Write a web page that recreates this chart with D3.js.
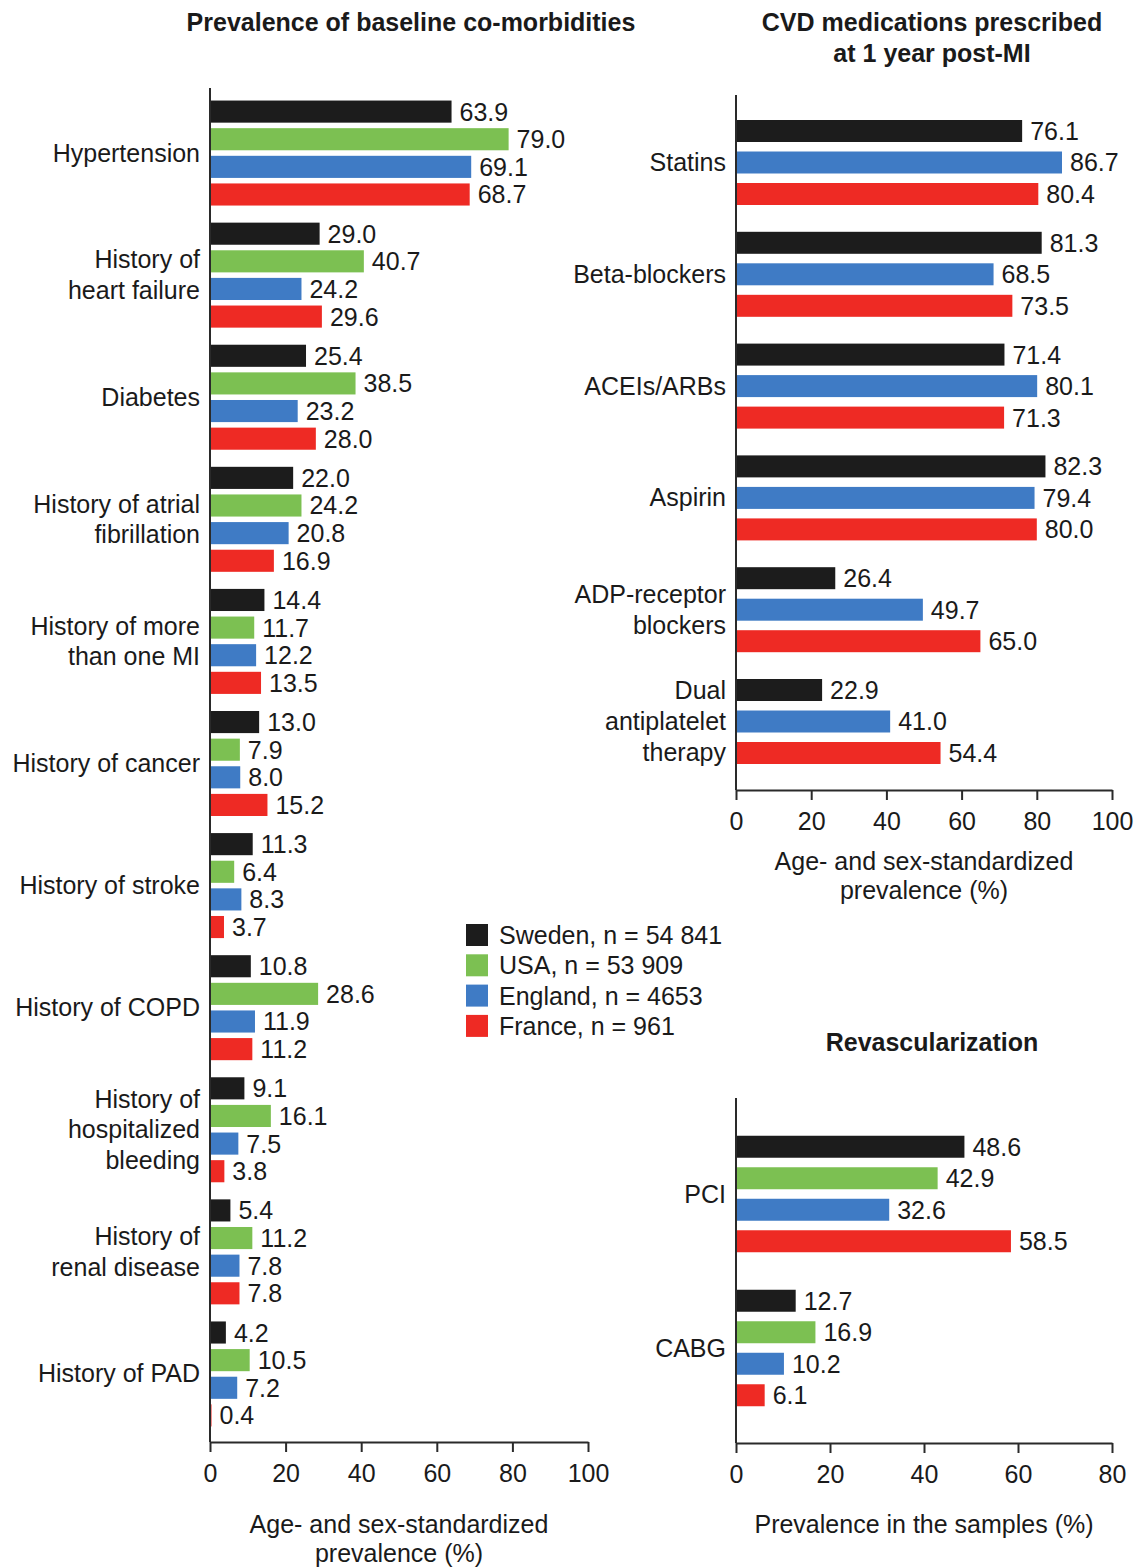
<!DOCTYPE html>
<html>
<head>
<meta charset="utf-8">
<script src="https://cdn.jsdelivr.net/npm/d3@7"></script>
<style>
  html, body { margin: 0; padding: 0; background: #fff; }
  svg { display: block; }
  text { font-family: "Liberation Sans", Arial, Helvetica, sans-serif; fill: #1a1a1a; }
</style>
</head>
<body>
<svg id="chart" width="1135" height="1567"></svg>
<script>
// Series (countries) and colours
const countries = ["Sweden", "USA", "England", "France"];
const countrySizes = ["54 841", "53 909", "4653", "961"];
const countryColors = ["#1c1c1c", "#7cc052", "#3f7bc5", "#ee2a24"];

// Baseline co-morbidities (Sweden, USA, England, France)
const comorbidities = [
  ["Hypertension"],
  ["History of", "heart failure"],
  ["Diabetes"],
  ["History of atrial", "fibrillation"],
  ["History of more", "than one MI"],
  ["History of cancer"],
  ["History of stroke"],
  ["History of COPD"],
  ["History of", "hospitalized", "bleeding"],
  ["History of", "renal disease"],
  ["History of PAD"]
];
const comorbidityValues = [
  [63.9, 79.0, 69.1, 68.7],
  [29.0, 40.7, 24.2, 29.6],
  [25.4, 38.5, 23.2, 28.0],
  [22.0, 24.2, 20.8, 16.9],
  [14.4, 11.7, 12.2, 13.5],
  [13.0, 7.9, 8.0, 15.2],
  [11.3, 6.4, 8.3, 3.7],
  [10.8, 28.6, 11.9, 11.2],
  [9.1, 16.1, 7.5, 3.8],
  [5.4, 11.2, 7.8, 7.8],
  [4.2, 10.5, 7.2, 0.4]
];

// CVD medications at 1 year post-MI (Sweden, England, France)
const medCountries = ["Sweden", "England", "France"];
const medications = [
  ["Statins"],
  ["Beta-blockers"],
  ["ACEIs/ARBs"],
  ["Aspirin"],
  ["ADP-receptor", "blockers"],
  ["Dual", "antiplatelet", "therapy"]
];
const medicationValues = [
  [76.1, 86.7, 80.4],
  [81.3, 68.5, 73.5],
  [71.4, 80.1, 71.3],
  [82.3, 79.4, 80.0],
  [26.4, 49.7, 65.0],
  [22.9, 41.0, 54.4]
];

// Revascularization (Sweden, USA, England, France)
const procedures = [["PCI"], ["CABG"]];
const procedureValues = [
  [48.6, 42.9, 32.6, 58.5],
  [12.7, 16.9, 10.2, 6.1]
];

// Axis ticks
const ticks100 = [0, 20, 40, 60, 80, 100];
const ticks80 = [0, 20, 40, 60, 80];

const svg = d3.select("#chart");
const FS = 25;
const colorOf = d3.scaleOrdinal().domain(countries).range(countryColors);

function panel(opt) {
  const g = svg.append("g");
  const x = d3.scaleLinear().domain(opt.xDomain).range(opt.xRange);
  const keys = opt.labels.map((d, i) => i);
  const y = d3.scaleBand().domain(keys).range(opt.yRange).padding(0);
  const inner = d3.scaleBand().domain(opt.series)
    .range([(y.bandwidth() - opt.block) / 2, (y.bandwidth() + opt.block) / 2])
    .paddingInner(opt.innerPad).paddingOuter(0);

  // bars + value labels
  const groups = g.selectAll("g.grp").data(opt.values).join("g")
    .attr("class", "grp")
    .attr("transform", (d, i) => `translate(0,${y(i)})`);
  groups.selectAll("rect").data(d => d.map((v, j) => ({ v, s: opt.series[j] }))).join("rect")
    .attr("x", x(0))
    .attr("y", d => inner(d.s))
    .attr("width", d => Math.max(0, x(d.v) - x(0)))
    .attr("height", inner.bandwidth())
    .attr("fill", d => colorOf(d.s));
  groups.selectAll("text.val").data(d => d.map((v, j) => ({ v, s: opt.series[j] }))).join("text")
    .attr("class", "val")
    .attr("x", d => x(d.v) + 8)
    .attr("y", d => inner(d.s) + inner.bandwidth() / 2)
    .attr("dy", "0.36em")
    .style("font-size", FS + "px")
    .text(d => d.v.toFixed(1));

  // category labels
  const lh = opt.lineHeight;
  g.selectAll("text.cat").data(opt.labels).join("text")
    .attr("class", "cat")
    .attr("text-anchor", "end")
    .attr("x", x(0) - 10)
    .attr("y", (d, i) => y(i) + y.bandwidth() / 2 - (d.length - 1) * lh / 2)
    .style("font-size", FS + "px")
    .each(function (d) {
      d3.select(this).selectAll("tspan").data(d).join("tspan")
        .attr("x", x(0) - 10)
        .attr("dy", (t, k) => k === 0 ? "0.34em" : lh + "px")
        .text(t => t);
    });

  // axes
  const xAxis = d3.axisBottom(x).tickValues(opt.ticks).tickSize(10).tickPadding(12).tickSizeOuter(0);
  const ax = g.append("g").attr("transform", `translate(0,${opt.axisBottom})`).call(xAxis);
  ax.select(".domain").attr("stroke", "#2a2a2a").attr("stroke-width", 2);
  ax.selectAll(".tick line").attr("stroke", "#2a2a2a").attr("stroke-width", 2);
  ax.selectAll(".tick text").style("font-size", FS + "px").attr("fill", "#1a1a1a")
    .style("font-family", '"Liberation Sans", Arial, sans-serif');
  g.append("line")
    .attr("x1", x(0)).attr("x2", x(0))
    .attr("y1", opt.axisTop).attr("y2", opt.axisBottom)
    .attr("stroke", "#2a2a2a").attr("stroke-width", 2);

  // axis title
  const cx = (opt.xRange[0] + opt.xRange[1]) / 2;
  g.append("text").attr("text-anchor", "middle").style("font-size", FS + "px")
    .selectAll("tspan").data(opt.xTitle).join("tspan")
    .attr("x", cx)
    .attr("y", (t, k) => opt.xTitleY + k * 29)
    .text(t => t);

  // panel title
  g.append("text").attr("text-anchor", "middle").style("font-size", "25px").style("font-weight", "bold")
    .selectAll("tspan").data(opt.title).join("tspan")
    .attr("x", opt.titleX)
    .attr("y", (t, k) => opt.titleY + k * 31)
    .text(t => t);
}

panel({
  labels: comorbidities, values: comorbidityValues, series: countries,
  xDomain: [0, 100], xRange: [210, 588], ticks: ticks100,
  yRange: [92, 1435], block: 105, innerPad: 0.2, lineHeight: 30.5,
  axisTop: 88, axisBottom: 1442,
  xTitle: ["Age- and sex-standardized", "prevalence (%)"], xTitleY: 1533,
  title: ["Prevalence of baseline co-morbidities"], titleX: 411, titleY: 31
});

panel({
  labels: medications, values: medicationValues, series: medCountries,
  xDomain: [0, 100], xRange: [736, 1112], ticks: ticks100,
  yRange: [106.6, 777.4], block: 85, innerPad: 0.302, lineHeight: 31,
  axisTop: 95, axisBottom: 790,
  xTitle: ["Age- and sex-standardized", "prevalence (%)"], xTitleY: 870,
  title: ["CVD medications prescribed", "at 1 year post-MI"], titleX: 932, titleY: 31
});

panel({
  labels: procedures, values: procedureValues, series: countries,
  xDomain: [0, 80], xRange: [736, 1112], ticks: ticks80,
  yRange: [1117, 1425], block: 116.5, innerPad: 0.302, lineHeight: 31,
  axisTop: 1098, axisBottom: 1443,
  xTitle: ["Prevalence in the samples (%)"], xTitleY: 1533,
  title: ["Revascularization"], titleX: 932, titleY: 1051
});

// legend
const legend = svg.append("g").attr("transform", "translate(466,924)");
const li = legend.selectAll("g").data(countries).join("g")
  .attr("transform", (d, i) => `translate(0,${i * 30.3})`);
li.append("rect").attr("width", 22).attr("height", 22).attr("fill", d => colorOf(d));
li.append("text").attr("x", 33).attr("y", 11).attr("dy", "0.36em")
  .style("font-size", FS + "px")
  .text((d, i) => `${d}, n = ${countrySizes[i]}`);
</script>
</body>
</html>
